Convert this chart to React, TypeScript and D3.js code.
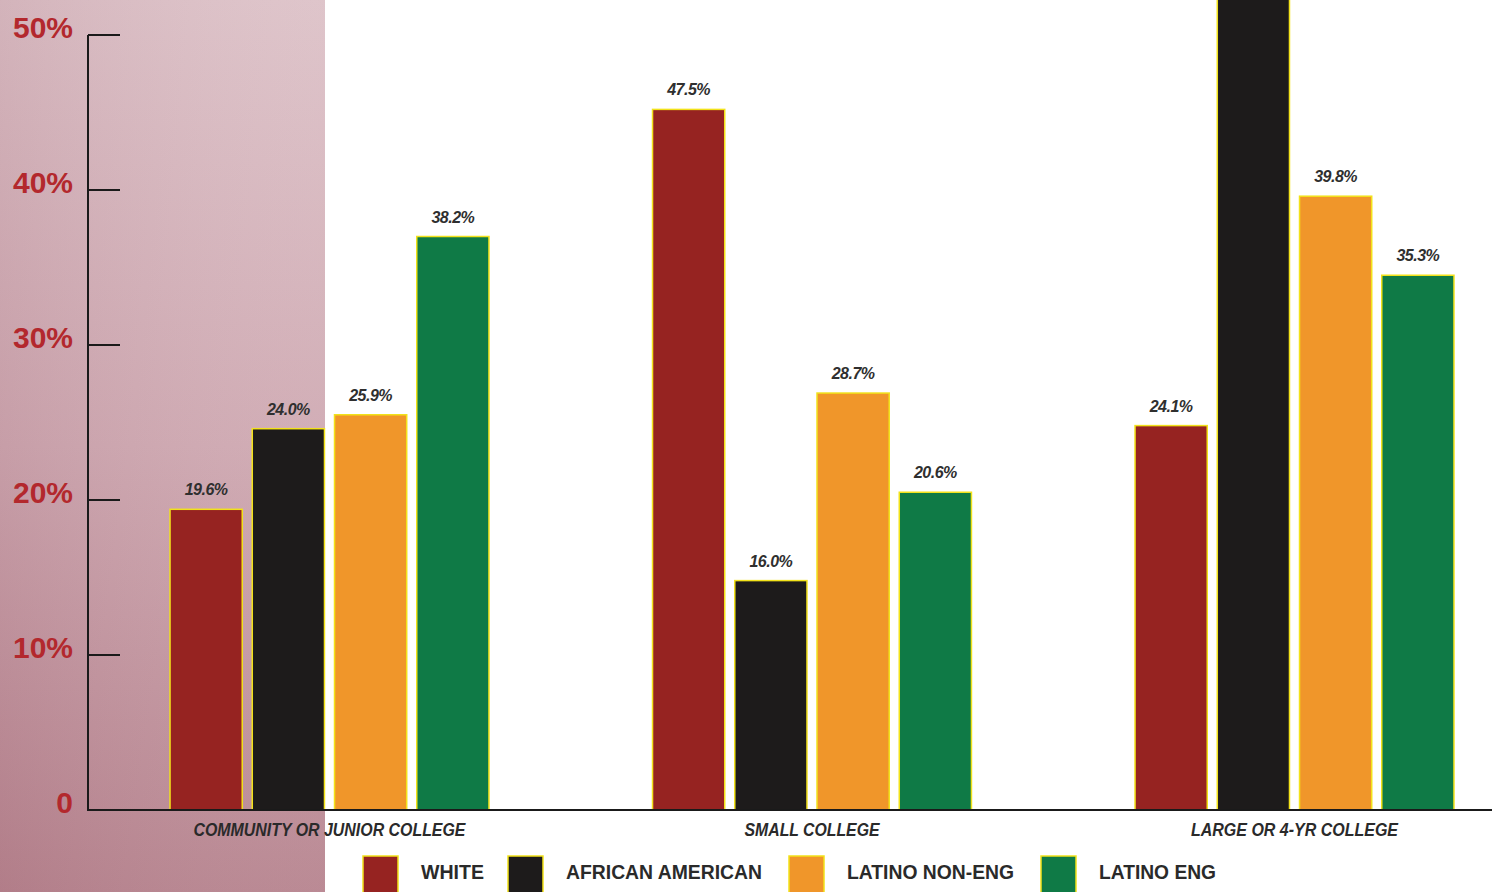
import React, { useEffect } from "react";
import * as d3 from "d3";

const categories = ["COMMUNITY OR JUNIOR COLLEGE", "SMALL COLLEGE", "LARGE OR 4-YR COLLEGE"];
const seriesNames = ["WHITE", "AFRICAN AMERICAN", "LATINO NON-ENG", "LATINO ENG"];
// printed value labels
const whiteLabel = [19.6, 47.5, 24.1];
const africanAmericanLabel = [24.0, 16.0, null];
const latinoNonEngLabel = [25.9, 28.7, 39.8];
const latinoEngLabel = [38.2, 20.6, 35.3];
// bar heights as drawn in the picture (percent on the axis)
const whiteBar = [19.4, 45.2, 24.8];
const africanAmericanBar = [24.6, 14.8, 56.0];
const latinoNonEngBar = [25.5, 26.9, 39.6];
const latinoEngBar = [37.0, 20.5, 34.5];
const yTicks = [0, 10, 20, 30, 40, 50];
const yTickLabels = ["0", "10%", "20%", "30%", "40%", "50%"];

const colors = ["#962321", "#1d1b1b", "#f0962a", "#0f7a46"];
const catLabelWidths = [272, 135, 207];
const legendTextWidths = [63, 196, 167, 117];

const W = 1497;
const H = 892;

export default function App() {
  useEffect(() => {
    document.body.style.margin = "0";
  }, []);

  const barValues = [whiteBar, africanAmericanBar, latinoNonEngBar, latinoEngBar];
  const labelValues = [whiteLabel, africanAmericanLabel, latinoNonEngLabel, latinoEngLabel];
  const y = d3.scaleLinear().domain([0, 50]).range([810, 35]);
  const x0 = d3.scaleBand<string>().domain(categories).range([88, 1536]).paddingInner(0.339).paddingOuter(0.17);
  const x1 = d3.scaleBand<string>().domain(seriesNames).range([0, x0.bandwidth()]).paddingInner(0.122);
  const legendX = d3.scaleOrdinal<string, number>().domain(seriesNames).range([363, 508, 789, 1041]);

  return (
    <svg width={W} height={H} style={{ display: "block" }} fontFamily="Liberation Sans, Arial, sans-serif">
      <defs>
        <linearGradient id="bgV" x1="0" y1="0" x2="0" y2="1">
          <stop offset="0" stopColor="#ddc2c8" />
          <stop offset="0.5" stopColor="#cfa9b2" />
          <stop offset="1" stopColor="#b7848f" />
        </linearGradient>
        <linearGradient id="bgH" x1="0" y1="0" x2="1" y2="0">
          <stop offset="0" stopColor="#8a4a5a" stopOpacity="0.12" />
          <stop offset="1" stopColor="#ffffff" stopOpacity="0.05" />
        </linearGradient>
        <clipPath id="plotClip">
          <rect x={0} y={0} width={W} height={810} />
        </clipPath>
      </defs>
      <rect x={0} y={0} width={W} height={H} fill="#ffffff" />
      <rect x={0} y={0} width={325} height={H} fill="url(#bgV)" />
      <rect x={0} y={0} width={325} height={H} fill="url(#bgH)" />

      {/* bars */}
      <g clipPath="url(#plotClip)">
        {categories.map((c, ci) => (
          <g key={c} transform={`translate(${x0(c)},0)`}>
            {seriesNames.map((s, si) => {
              const v = barValues[si][ci];
              const lab = labelValues[si][ci];
              const bx = x1(s)!;
              return (
                <g key={s}>
                  <rect
                    x={bx}
                    y={y(v)}
                    width={x1.bandwidth()}
                    height={y(0) - y(v)}
                    fill={colors[si]}
                    stroke="#f2e21a"
                    strokeWidth={1.5}
                  />
                  {lab !== null && (
                    <text
                      x={bx + x1.bandwidth() / 2}
                      y={y(v) - 14}
                      textAnchor="middle"
                      fontSize={16}
                      fontWeight="bold"
                      fontStyle="italic"
                      fill="#2f2f2f"
                      letterSpacing={-0.5}
                    >
                      {lab.toFixed(1) + "%"}
                    </text>
                  )}
                </g>
              );
            })}
          </g>
        ))}
      </g>

      {/* y axis */}
      <line x1={88} x2={88} y1={y(50)} y2={y(0)} stroke="#1a1a1a" strokeWidth={2} />
      {yTicks.map((t, i) => (
        <g key={t}>
          {t > 0 && <line x1={88} x2={120} y1={y(t)} y2={y(t)} stroke="#1a1a1a" strokeWidth={2} />}
          <text x={73} y={y(t) + 3} textAnchor="end" fontSize={30} fontWeight="bold" fill="#b3282d">
            {yTickLabels[i]}
          </text>
        </g>
      ))}
      {/* baseline */}
      <line x1={87} x2={1492} y1={y(0)} y2={y(0)} stroke="#1a1a1a" strokeWidth={2} />

      {/* category labels */}
      {categories.map((c, ci) => (
        <text
          key={c}
          x={x0(c)! + x0.bandwidth() / 2}
          y={836}
          textAnchor="middle"
          fontSize={18}
          fontWeight="bold"
          fontStyle="italic"
          fill="#2a2a2a"
          textLength={catLabelWidths[ci]}
          lengthAdjust="spacingAndGlyphs"
        >
          {c}
        </text>
      ))}

      {/* legend */}
      {seriesNames.map((s, si) => (
        <g key={s}>
          <rect x={legendX(s)} y={856} width={35} height={40} fill={colors[si]} stroke="#f2e21a" strokeWidth={1.5} />
          <text
            x={legendX(s) + 58}
            y={879}
            fontSize={20}
            fontWeight="bold"
            fill="#2a2a2a"
            textLength={legendTextWidths[si]}
            lengthAdjust="spacingAndGlyphs"
          >
            {s}
          </text>
        </g>
      ))}
    </svg>
  );
}
